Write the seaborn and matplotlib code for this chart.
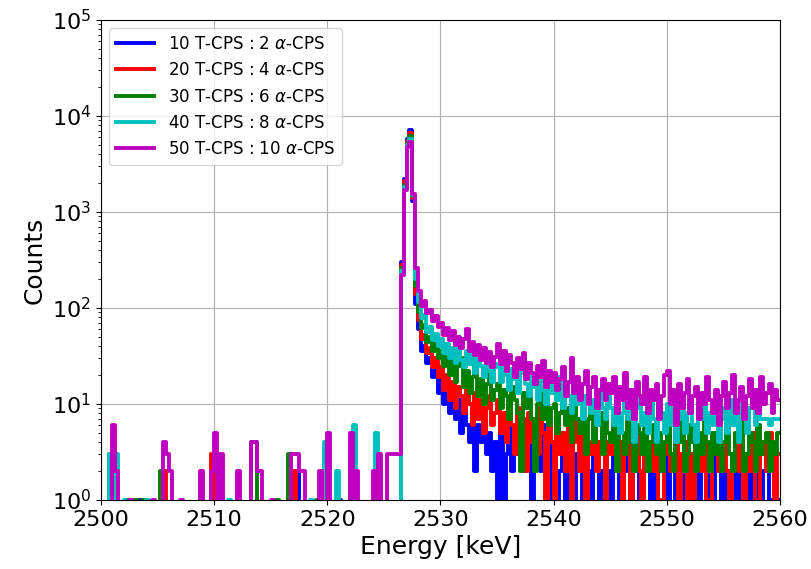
import numpy as np
import matplotlib
matplotlib.use("Agg")
import matplotlib.pyplot as plt
import seaborn as sns

# ---------------- data ----------------
bin_width = 0.25
e_start = 2500.0
n_low = 105          # bins from 2500 to 2526.25
labels = [r"10 T-CPS : 2 $\alpha$-CPS", r"20 T-CPS : 4 $\alpha$-CPS",
          r"30 T-CPS : 6 $\alpha$-CPS", r"40 T-CPS : 8 $\alpha$-CPS",
          r"50 T-CPS : 10 $\alpha$-CPS"]
colors = ["b", "r", "g", "c", "m"]

# sparse counts below the peak: (bin start energy, counts)
low_blue = [(2501.0, 2), (2503.25, 1), (2517.25, 2), (2521.0, 1)]
low_red = [(2505.5, 2), (2509.75, 3), (2517.0, 2), (2524.5, 2), (2502.75, 1), (2519.5, 1)]
low_green = [(2500.75, 3), (2502.25, 1), (2503.0, 1), (2503.75, 1), (2505.25, 2),
             (2513.25, 4), (2513.5, 4), (2515.5, 1), (2516.5, 3), (2522.0, 3), (2519.0, 1)]
low_cyan = [(2500.75, 3), (2501.25, 3), (2502.0, 1), (2504.0, 1), (2519.75, 4),
            (2520.75, 2), (2522.25, 6), (2524.25, 5), (2511.25, 1), (2518.5, 1)]
low_mag = [(2501.0, 6), (2501.25, 2), (2502.5, 1), (2504.5, 1), (2505.5, 4), (2505.75, 3),
           (2506.0, 2), (2507.0, 1), (2508.75, 2), (2509.75, 2), (2510.0, 5), (2510.5, 3),
           (2512.0, 2), (2513.25, 4), (2513.5, 4), (2513.75, 2), (2514.0, 2), (2515.0, 1),
           (2516.75, 3), (2517.0, 3), (2517.25, 3), (2517.5, 2), (2517.75, 2), (2519.25, 2),
           (2520.0, 5), (2522.0, 5), (2522.5, 2), (2524.0, 2), (2524.5, 3),
           (2525.25, 3), (2525.5, 3), (2525.75, 3), (2526.0, 3)]

# dense counts from 2526.25 keV to 2560 keV (0.25 keV bins)
tail_blue = [0, 300, 2200, 5800, 7100, 1300, 110,
             60, 36, 40, 27, 30, 19, 24, 13,
             18, 10, 14, 8, 12, 7, 11, 5, 9, 6, 4, 8, 2, 6, 4, 7, 3, 5, 2, 4,
             0, 5, 0, 3, 6, 2, 5, 3, 7, 2, 4, 6, 1, 5, 3, 2, 6, 3, 0, 4,
             3, 0, 2, 5, 1, 3, 4, 0, 3, 2, 0, 4, 2, 1, 3, 4, 0, 2, 3, 2,
             0, 3, 2, 1, 3, 2, 4, 0, 2, 3, 0, 2, 3, 2, 0, 3, 1, 2, 2, 3,
             0, 2, 3, 1, 2, 0, 3, 2, 0, 2, 3, 0, 3, 2, 1, 2, 0, 3, 2, 0,
             2, 1, 2, 3, 0, 2, 1, 2, 2, 0, 3, 1, 2, 0, 2, 2, 1, 0, 2, 1]
tail_red = [0, 280, 2100, 5500, 6600, 1400, 140,
            75, 48, 52, 34, 38, 24, 30, 19,
            24, 14, 20, 11, 17, 9, 15, 12, 8, 14, 10, 6, 13, 7, 11, 5, 9, 12, 6, 8,
            11, 5, 8, 4, 10, 6, 3, 9, 5, 7, 2, 8, 4, 6, 3, 9, 5, 0, 6, 4,
            0, 7, 3, 5, 2, 6, 0, 4, 7, 2, 5, 0, 4, 3, 6, 2, 4, 5, 1, 4,
            3, 6, 2, 4, 0, 3, 5, 1, 4, 6, 2, 0, 5, 3, 4, 2, 5, 1, 0, 3,
            5, 2, 3, 6, 0, 3, 4, 1, 3, 0, 5, 3, 2, 4, 1, 0, 3, 5, 2, 3,
            4, 2, 0, 3, 5, 2, 4, 0, 3, 2, 5, 1, 0, 3, 4, 2, 5, 3, 1, 3]
tail_green = [0, 260, 1900, 5200, 6200, 1450, 170,
              90, 62, 66, 44, 50, 36, 42, 30,
              36, 25, 31, 20, 28, 17, 25, 30, 15, 22, 13, 19, 24, 12, 18, 10, 16, 21, 11, 14,
              16, 9, 14, 12, 7, 15, 11, 8, 2, 13, 9, 12, 7, 2, 10, 14, 7, 11, 6, 9,
              10, 5, 8, 12, 6, 9, 4, 11, 7, 5, 9, 3, 7, 10, 4, 6, 8, 3, 7, 5,
              4, 7, 2, 6, 5, 3, 8, 4, 2, 6, 5, 3, 7, 2, 4, 6, 3, 5, 2, 4,
              6, 3, 2, 5, 4, 7, 2, 3, 6, 4, 2, 5, 3, 7, 4, 2, 5, 3, 6, 2,
              4, 6, 3, 2, 5, 4, 7, 2, 3, 5, 4, 2, 6, 3, 4, 5, 2, 4, 3, 5]
tail_cyan = [0, 240, 1800, 5000, 5800, 1500, 200,
             115, 78, 84, 56, 64, 46, 54, 40,
             48, 34, 42, 30, 38, 27, 45, 29, 24, 36, 26, 33, 21, 30, 25, 19, 28, 22, 17, 26,
             24, 17, 28, 20, 14, 23, 18, 13, 21, 30, 16, 12, 19, 15, 11, 22, 14, 10, 18, 13,
             16, 11, 19, 9, 14, 12, 8, 16, 10, 13, 7, 12, 15, 8, 11, 6, 13, 9, 7, 12,
             9, 6, 11, 5, 8, 13, 7, 10, 4, 9, 12, 6, 8, 5, 11, 7, 4, 10, 8, 5,
             10, 6, 9, 4, 7, 12, 5, 8, 11, 6, 4, 9, 7, 13, 5, 8, 6, 10, 4, 7,
             9, 5, 11, 6, 8, 4, 10, 7, 5, 9, 12, 6, 8, 7, 7, 7, 6, 7, 7, 7]
tail_mag = [3, 220, 1700, 4700, 5400, 1550, 260,
            150, 105, 118, 88, 96, 74, 82, 64,
            70, 52, 62, 46, 57, 41, 50, 38, 47, 60, 36, 44, 32, 41, 29, 38, 27, 35, 24, 31,
            42, 26, 36, 22, 32, 27, 19, 30, 23, 34, 18, 27, 21, 16, 25, 19, 28, 15, 22, 17,
            21, 14, 18, 24, 12, 17, 30, 13, 19, 11, 16, 22, 10, 15, 19, 9, 14, 18, 11, 16,
            13, 19, 8, 15, 11, 21, 9, 14, 7, 17, 12, 10, 19, 8, 14, 11, 16, 7, 12, 20,
            22, 10, 14, 6, 16, 9, 13, 18, 8, 12, 15, 7, 13, 10, 19, 11, 8, 14, 6, 12,
            17, 9, 13, 20, 8, 11, 15, 7, 12, 18, 9, 14, 8, 19, 10, 13, 16, 8, 14, 11]

lows = [low_blue, low_red, low_green, low_cyan, low_mag]
tails = [tail_blue, tail_red, tail_green, tail_cyan, tail_mag]

# ---------------- plot ----------------
fig = plt.figure(figsize=(8.11, 5.69), dpi=100)
ax = fig.add_axes([0.1245, 0.1213, 0.8373, 0.8436])

n_bins = n_low + len(tail_blue)
edges = e_start + bin_width * np.arange(n_bins + 1)

for low, tail, col, lab in zip(lows, tails, colors, labels):
    counts = np.zeros(n_bins)
    for e, c in low:
        counts[int(round((e - e_start) / bin_width))] = c
    counts[n_low:] = tail
    y = np.append(counts, counts[-1])
    sns.lineplot(x=edges, y=y, ax=ax, color=col, lw=2.8, label=lab,
                 drawstyle="steps-post", estimator=None, sort=False)

ax.set_yscale("log")
ax.set_xlim(2500, 2560)
ax.set_ylim(1, 1e5)
ax.grid(True, which="major", color="#b0b0b0", lw=0.8)
ax.set_axisbelow(True)
ax.tick_params(axis="both", which="major", labelsize=16)
ax.set_xlabel("Energy [keV]", fontsize=18)
ax.set_ylabel("Counts", fontsize=18)
ax.legend(loc="upper left", fontsize=12, handlelength=2.3)

fig.savefig("out.png", dpi=100)
